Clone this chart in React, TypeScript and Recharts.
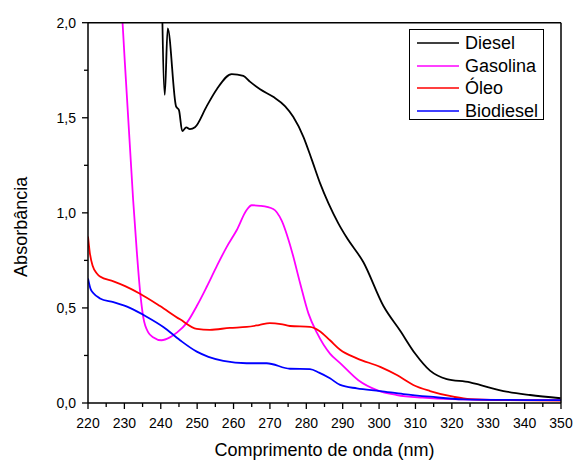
import { Label, Legend, Line, LineChart, XAxis, YAxis } from "recharts";

const FONT = "'Liberation Sans', Arial, sans-serif";

// wavelength ticks (nm) and absorbance ticks, majors get labels
const xTicks = [220, 225, 230, 235, 240, 245, 250, 255, 260, 265, 270, 275, 280, 285, 290, 295, 300, 305, 310, 315, 320, 325, 330, 335, 340, 345, 350];
const yTicks = [0, 0.25, 0.5, 0.75, 1.0, 1.25, 1.5, 1.75, 2.0];

const dieselX = [240.1, 241.1, 241.9, 244.2, 245.0, 245.9, 247.0, 248.0, 249.4, 252.6, 255.4, 259.5, 262.7, 264.5, 267.3, 270.9, 274.2, 276.4, 279.2, 281.5, 283.8, 286.1, 288.8, 291.1, 295.7, 301.2, 305.8, 309.9, 314.0, 318.6, 325.0, 327.7, 334.2, 341.5, 349.9];
const dieselY = [2.4, 1.62, 1.97, 1.56, 1.54, 1.43, 1.45, 1.44, 1.45, 1.56, 1.65, 1.73, 1.72, 1.69, 1.65, 1.61, 1.56, 1.505, 1.4, 1.28, 1.155, 1.05, 0.945, 0.87, 0.74, 0.51, 0.38, 0.26, 0.17, 0.126, 0.109, 0.095, 0.063, 0.042, 0.025];

const gasolinaX = [228.6, 229.5, 232.4, 233.4, 234.3, 235.2, 236.6, 238.0, 240.2, 242.5, 244.4, 247.1, 249.9, 252.6, 255.4, 258.1, 260.9, 263.6, 265.0, 267.3, 270.9, 273.2, 276.0, 278.3, 280.6, 282.9, 286.5, 289.3, 294.3, 299.4, 304.9, 312, 320, 335, 350];
const gasolinaY = [2.3, 2.0, 1.07, 0.8, 0.59, 0.45, 0.37, 0.345, 0.33, 0.345, 0.37, 0.42, 0.51, 0.61, 0.72, 0.82, 0.91, 1.015, 1.04, 1.037, 1.02, 0.96, 0.8, 0.63, 0.47, 0.37, 0.26, 0.21, 0.12, 0.068, 0.042, 0.028, 0.02, 0.016, 0.015];

const oleoX = [220, 220.5, 221.3, 222.5, 223.3, 227, 230.2, 234.3, 239.8, 245.3, 249.9, 253.5, 259, 263.6, 267, 270, 273, 275.5, 281, 283.5, 286.5, 289.3, 293.9, 300.3, 304.9, 309.4, 314, 320.4, 325, 335, 350];
const oleoY = [0.875, 0.79, 0.72, 0.68, 0.665, 0.64, 0.615, 0.575, 0.51, 0.44, 0.39, 0.385, 0.395, 0.4, 0.41, 0.42, 0.415, 0.405, 0.4, 0.38, 0.33, 0.28, 0.235, 0.19, 0.147, 0.095, 0.063, 0.033, 0.02, 0.015, 0.012];

const biodieselX = [220, 220.7, 221.5, 223.3, 227, 231.5, 236.1, 240.7, 245.3, 249.9, 253.1, 257.2, 263.6, 269.1, 275.5, 281, 283.5, 286.5, 289.3, 293.9, 300.3, 306.7, 314, 323.2, 335, 350];
const biodieselY = [0.655, 0.6, 0.577, 0.55, 0.53, 0.5, 0.454, 0.4, 0.33, 0.27, 0.243, 0.222, 0.209, 0.209, 0.18, 0.178, 0.16, 0.13, 0.095, 0.077, 0.063, 0.047, 0.033, 0.019, 0.016, 0.015];

const zip = (xs: number[], ys: number[]) => xs.map((x, i) => ({ x, y: ys[i] }));

const series = [
  { name: "Diesel", color: "#000000", data: zip(dieselX, dieselY) },
  { name: "Gasolina", color: "#ff00ff", data: zip(gasolinaX, gasolinaY) },
  { name: "Óleo", color: "#ff0000", data: zip(oleoX, oleoY) },
  { name: "Biodiesel", color: "#0000ff", data: zip(biodieselX, biodieselY) },
];
const seriesOrder = series.map((s) => s.name);

interface TickProps {
  x?: number;
  y?: number;
  payload?: { value: number };
}

const isMajorX = (v: number) => v % 10 === 0;
const isMajorY = (v: number) => Math.abs(v * 2 - Math.round(v * 2)) < 1e-6;
const fmtY = (v: number) => v.toFixed(1).replace(".", ",");

function BottomTick({ x = 0, y = 0, payload }: TickProps) {
  const v = payload?.value ?? 0;
  const major = isMajorX(v);
  return (
    <g>
      <line x1={x} x2={x} y1={y} y2={y + (major ? 6 : 4)} stroke="#000" strokeWidth={1.3} />
      {major && (
        <text x={x} y={y + 25} textAnchor="middle" fontSize={14} fontFamily={FONT} fill="#000">
          {v}
        </text>
      )}
    </g>
  );
}

function TopTick({ x = 0, y = 0, payload }: TickProps) {
  const major = isMajorX(payload?.value ?? 0);
  return <line x1={x} x2={x} y1={y} y2={y + (major ? 5 : 3)} stroke="#000" strokeWidth={1.3} />;
}

function LeftTick({ x = 0, y = 0, payload }: TickProps) {
  const v = payload?.value ?? 0;
  const major = isMajorY(v);
  return (
    <g>
      <line x1={x - (major ? 6 : 4)} x2={x} y1={y} y2={y} stroke="#000" strokeWidth={1.3} />
      {major && (
        <text x={x - 12} y={y + 5} textAnchor="end" fontSize={14} fontFamily={FONT} fill="#000">
          {fmtY(v)}
        </text>
      )}
    </g>
  );
}

function RightTick({ x = 0, y = 0, payload }: TickProps) {
  const major = isMajorY(payload?.value ?? 0);
  return <line x1={x - (major ? 5 : 3)} x2={x} y1={y} y2={y} stroke="#000" strokeWidth={1.3} />;
}

function XTitle(props: any) {
  const vb = props.viewBox ?? { x: 88, y: 403, width: 473, height: 1 };
  return (
    <text x={vb.x + vb.width / 2} y={vb.y + 53} textAnchor="middle" fontSize={18} fontFamily={FONT} fill="#000">
      Comprimento de onda (nm)
    </text>
  );
}

function YTitle(props: any) {
  const vb = props.viewBox ?? { x: 87, y: 23, width: 1, height: 380 };
  const cx = vb.x + vb.width - 61;
  const cy = vb.y + vb.height / 2 + 14;
  return (
    <text x={cx} y={cy} transform={`rotate(-90, ${cx}, ${cy})`} textAnchor="middle" fontSize={18} fontFamily={FONT} fill="#000">
      Absorbância
    </text>
  );
}

function LegendBox({ payload }: any) {
  const items = (payload ?? []) as Array<{ value: string; color: string }>;
  return (
    <div
      style={{
        border: "1.3px solid #000",
        background: "#fff",
        padding: "2px 0 1px 0",
        fontFamily: FONT,
        fontSize: 18,
        boxSizing: "border-box",
        height: "100%",
      }}
    >
      {items.map((item) => (
        <div key={item.value} style={{ display: "flex", alignItems: "center", height: 22.5 }}>
          <svg width={55} height={4} style={{ display: "block" }}>
            <line x1={7} x2={49} y1={2} y2={2} stroke={item.color} strokeWidth={1.6} />
          </svg>
          <span style={{ lineHeight: "22px" }}>{item.value}</span>
        </div>
      ))}
    </div>
  );
}

export default function App() {
  return (
    <div style={{ position: "absolute", left: 0, top: 0, width: 574, height: 460, background: "#fff" }}>
      <LineChart width={574} height={460} margin={{ top: 21.7, right: 12, bottom: 56, left: 87 }}>
        <XAxis
          dataKey="x"
          type="number"
          domain={[220, 350]}
          ticks={xTicks}
          interval={0}
          allowDataOverflow
          height={1}
          tickSize={0}
          tickMargin={0}
          tickLine={false}
          axisLine={{ stroke: "#000", strokeWidth: 1.5 }}
          tick={<BottomTick />}
        >
          <Label content={<XTitle />} />
        </XAxis>
        <XAxis
          xAxisId="top"
          orientation="top"
          type="number"
          domain={[220, 350]}
          ticks={xTicks}
          interval={0}
          height={1}
          tickSize={0}
          tickMargin={0}
          tickLine={false}
          axisLine={{ stroke: "#000", strokeWidth: 1.5 }}
          tick={<TopTick />}
        />
        <YAxis
          type="number"
          domain={[0, 2]}
          ticks={yTicks}
          interval={0}
          allowDataOverflow
          width={1}
          tickSize={0}
          tickMargin={0}
          tickLine={false}
          axisLine={{ stroke: "#000", strokeWidth: 1.5 }}
          tick={<LeftTick />}
        >
          <Label content={<YTitle />} />
        </YAxis>
        <YAxis
          yAxisId="right"
          orientation="right"
          type="number"
          domain={[0, 2]}
          ticks={yTicks}
          interval={0}
          width={1}
          tickSize={0}
          tickMargin={0}
          tickLine={false}
          axisLine={{ stroke: "#000", strokeWidth: 1.5 }}
          tick={<RightTick />}
        />
        <Legend
          layout="vertical"
          align="center"
          verticalAlign="middle"
          itemSorter={(item: any) => seriesOrder.indexOf(item.value)}
          wrapperStyle={{ top: 29, left: 409, width: 135, height: 91 }}
          content={<LegendBox />}
        />
        {series.map((s) => (
          <Line
            key={s.name}
            data={s.data}
            dataKey="y"
            name={s.name}
            type="monotone"
            stroke={s.color}
            strokeWidth={1.8}
            dot={false}
            activeDot={false}
            isAnimationActive={false}
          />
        ))}
      </LineChart>
    </div>
  );
}
